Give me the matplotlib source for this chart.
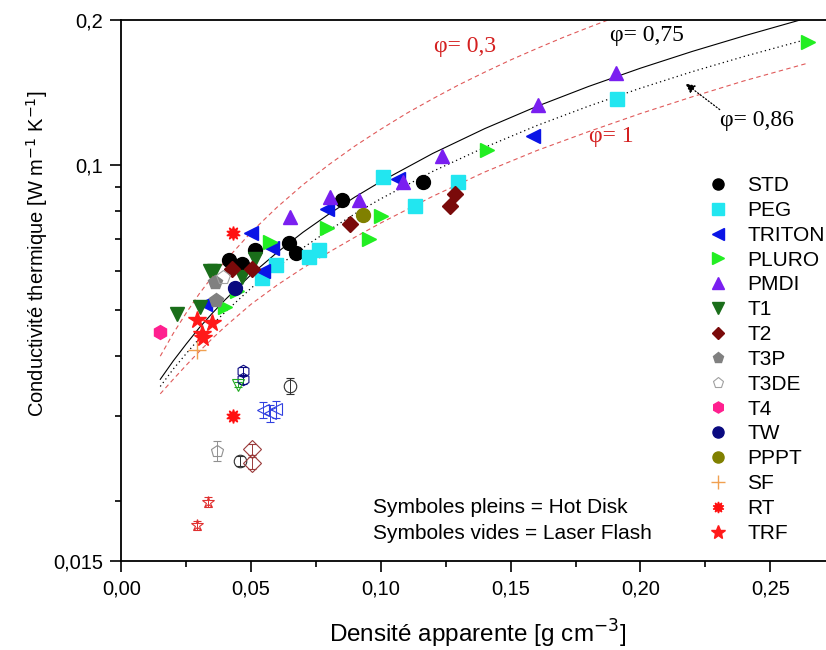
import matplotlib.pyplot as plt
from matplotlib.ticker import FixedLocator, NullFormatter

plt.rcParams['font.family'] = ['Liberation Sans', 'DejaVu Sans']

# Hot Disk (filled symbols)
std_x = [0.0416, 0.0464, 0.0515, 0.0647, 0.0673, 0.0849, 0.1162]
std_y = [0.0635, 0.0622, 0.0666, 0.0688, 0.0656, 0.0845, 0.0920]
peg_x = [0.0543, 0.0596, 0.0724, 0.0763, 0.1007, 0.1131, 0.1296, 0.1908]
peg_y = [0.0581, 0.0618, 0.0644, 0.0665, 0.0942, 0.0822, 0.0923, 0.1368]
triton_x = [0.0322, 0.0498, 0.0547, 0.0579, 0.0791, 0.1067, 0.1585]
triton_y = [0.0513, 0.0721, 0.0602, 0.0670, 0.0809, 0.0932, 0.1146]
pluro_x = [0.0399, 0.0445, 0.0573, 0.0791, 0.0955, 0.1000, 0.1408, 0.2646]
pluro_y = [0.0505, 0.0547, 0.0692, 0.0739, 0.0701, 0.0784, 0.1075, 0.1802]
pmdi_x = [0.0650, 0.0804, 0.0917, 0.1086, 0.1234, 0.1606, 0.1906]
pmdi_y = [0.0778, 0.0856, 0.0846, 0.0923, 0.1042, 0.1329, 0.1553]
t1_x = [0.0213, 0.0303, 0.0342, 0.0357, 0.0464, 0.0515]
t1_y = [0.0490, 0.0506, 0.0600, 0.0600, 0.0583, 0.0637]
t2_x = [0.0425, 0.0502, 0.0881, 0.1266, 0.1285]
t2_y = [0.0607, 0.0607, 0.0753, 0.0819, 0.0870]
t3p_x = [0.0361, 0.0365]
t3p_y = [0.0571, 0.0524]
t3de_x = [0.0393]
t3de_y = [0.0583]
t4_x = [0.0149]
t4_y = [0.0449]
tw_x = [0.0438]
tw_y = [0.0555]
pppt_x = [0.0932]
pppt_y = [0.0786]
sf_x = [0.0290]
sf_y = [0.0412]
rt_x = [0.0429, 0.0429]
rt_y = [0.0721, 0.0301]
trf_x = [0.0290, 0.0311, 0.0316, 0.0351]
trf_y = [0.0476, 0.0445, 0.0437, 0.0468]

# Laser Flash (open symbols) with error bars
std_lf_x = [0.0457, 0.0650]
std_lf_y = [0.0242, 0.0347]
std_lf_err = [0.0006, 0.0013]
tw_lf_x = [0.0468, 0.0468]
tw_lf_y = [0.0372, 0.0358]
tw_lf_err = [0.0008, 0.0008]
t1_lf_x = [0.0448]
t1_lf_y = [0.0349]
t1_lf_err = [0.0004]
triton_lf_x = [0.0546, 0.0573, 0.0596]
triton_lf_y = [0.0309, 0.0304, 0.0310]
triton_lf_err = [0.0012, 0.0012, 0.0012]
t3de_lf_x = [0.0367]
t3de_lf_y = [0.0254]
t3de_lf_err = [0.0012]
t2_lf_x = [0.0502, 0.0502]
t2_lf_y = [0.0256, 0.0240]
t2_lf_err = [0.0007, 0.0007]
trf_lf_x = [0.0290, 0.0335]
trf_lf_y = [0.0178, 0.0199]
trf_lf_err = [0.0004, 0.0005]

# model curves, values
phi03_x = [0.015, 0.020, 0.025, 0.030, 0.035, 0.040, 0.050, 0.060, 0.070, 0.080,
           0.090, 0.100, 0.110, 0.120, 0.130, 0.140, 0.150, 0.160, 0.170, 0.180, 0.1875]
phi03_y = [0.0400, 0.0446, 0.0492, 0.0539, 0.0585, 0.0631, 0.0724, 0.0816, 0.0909, 0.1001,
           0.1094, 0.1186, 0.1280, 0.1372, 0.1466, 0.1558, 0.1652, 0.1744, 0.1838, 0.1930, 0.2000]
phi075_x = [0.015, 0.020, 0.025, 0.030, 0.035, 0.040, 0.050, 0.060, 0.070, 0.080,
            0.090, 0.100, 0.120, 0.140, 0.160, 0.180, 0.200, 0.220, 0.240, 0.2615]
phi075_y = [0.0358, 0.0391, 0.0424, 0.0458, 0.0491, 0.0524, 0.0591, 0.0657, 0.0724, 0.0790,
            0.0857, 0.0923, 0.1056, 0.1189, 0.1322, 0.1455, 0.1588, 0.1721, 0.1854, 0.2000]
phi086_x = [0.015, 0.020, 0.025, 0.030, 0.035, 0.040, 0.050, 0.060, 0.070, 0.080,
            0.090, 0.100, 0.120, 0.140, 0.160, 0.180, 0.200, 0.220, 0.240, 0.264]
phi086_y = [0.0346, 0.0376, 0.0405, 0.0435, 0.0465, 0.0494, 0.0554, 0.0613, 0.0672, 0.0731,
            0.0791, 0.0850, 0.0969, 0.1087, 0.1206, 0.1324, 0.1443, 0.1562, 0.1680, 0.1823]
phi1_x = [0.015, 0.020, 0.025, 0.030, 0.035, 0.040, 0.050, 0.060, 0.070, 0.080,
          0.090, 0.100, 0.120, 0.140, 0.160, 0.180, 0.200, 0.220, 0.240, 0.264]
phi1_y = [0.0334, 0.0358, 0.0383, 0.0409, 0.0435, 0.0461, 0.0513, 0.0562, 0.0610, 0.0658,
          0.0707, 0.0757, 0.0860, 0.0966, 0.1070, 0.1172, 0.1278, 0.1385, 0.1495, 0.1624]

y_ticks = [0.015, 0.1, 0.2]
y_ticklabels = ['0,015', '0,1', '0,2']
y_minor = [0.02, 0.03, 0.04, 0.05, 0.06, 0.07, 0.08, 0.09]
x_ticks = [0.0, 0.05, 0.10, 0.15, 0.20, 0.25]
x_ticklabels = ['0,00', '0,05', '0,10', '0,15', '0,20', '0,25']

fig = plt.figure(figsize=(8.26, 6.5), dpi=100)
ax = fig.add_axes([0.1469, 0.1369, 0.8531, 0.8323])
ax.set_yscale('log')

red = '#e05a5a'
ax.plot(phi03_x, phi03_y, color=red, ls=(0, (4, 3)), lw=0.8, zorder=1)
ax.plot(phi075_x, phi075_y, color='black', ls='-', lw=0.8, zorder=1)
ax.plot(phi086_x, phi086_y, color='black', ls=(0, (1, 2.5)), lw=0.9, zorder=1)
ax.plot(phi1_x, phi1_y, color=red, ls=(0, (4, 3)), lw=0.8, zorder=1)

ms = 10
series = [
    ('STD', std_x, std_y, 'o', '#000000'),
    ('PEG', peg_x, peg_y, 's', '#22e6f0'),
    ('TRITON', triton_x, triton_y, '<', '#0a14e6'),
    ('PLURO', pluro_x, pluro_y, '>', '#22ee22'),
    ('PMDI', pmdi_x, pmdi_y, '^', '#7a1ff0'),
    ('T1', t1_x, t1_y, 'v', '#1a6e1a'),
    ('T2', t2_x, t2_y, 'D', '#7a0a0a'),
    ('T3P', t3p_x, t3p_y, 'p', '#808080'),
    ('T3DE', t3de_x, t3de_y, 'p', '#a0a0a0'),
    ('T4', t4_x, t4_y, 'h', '#ff1f8f'),
    ('TW', tw_x, tw_y, 'o', '#0a0a80'),
    ('PPPT', pppt_x, pppt_y, 'o', '#808000'),
    ('SF', sf_x, sf_y, '+', '#f0a050'),
    ('RT', rt_x, rt_y, (10, 1, 0), '#ff1010'),
    ('TRF', trf_x, trf_y, '*', '#ff1a1a'),
]
handles = []
for name, xs, ys, mk, col in series:
    size = ms
    if name == 'T2':
        size = ms - 2
    if name == 'TRF':
        size = ms + 3
    if name == 'T3DE':
        h, = ax.plot(xs, ys, ls='none', marker=mk, ms=size, mfc='none',
                     mec=col, mew=0.8, label=name, zorder=3)
    elif name == 'SF':
        h, = ax.plot(xs, ys, ls='none', marker=mk, ms=size + 3, color=col,
                     mew=1.0, label=name, zorder=3)
    else:
        h, = ax.plot(xs, ys, ls='none', marker=mk, ms=size, color=col,
                     mec=col, label=name, zorder=3)
    handles.append(h)

open_series = [
    (std_lf_x, std_lf_y, std_lf_err, 'o', '#303030'),
    (tw_lf_x, tw_lf_y, tw_lf_err, 'h', '#0a0a80'),
    (t1_lf_x, t1_lf_y, t1_lf_err, 'v', '#22aa22'),
    (triton_lf_x, triton_lf_y, triton_lf_err, '<', '#3040e0'),
    (t3de_lf_x, t3de_lf_y, t3de_lf_err, 'p', '#909090'),
    (t2_lf_x, t2_lf_y, t2_lf_err, 'D', '#9a3a3a'),
    (trf_lf_x, trf_lf_y, trf_lf_err, '*', '#e03030'),
]
for xs, ys, err, mk, col in open_series:
    ax.errorbar(xs, ys, yerr=err, fmt=mk, ms=9, mfc='none', mec=col,
                mew=0.8, ecolor=col, elinewidth=0.7, capsize=3,
                capthick=0.7, zorder=3)

ax.set_xlim(0, 0.2715)
ax.set_ylim(0.015, 0.2)

ax.yaxis.set_major_locator(FixedLocator(y_ticks))
ax.set_yticklabels(y_ticklabels)
ax.yaxis.set_minor_locator(FixedLocator(y_minor))
ax.yaxis.set_minor_formatter(NullFormatter())
ax.set_xticks(x_ticks)
ax.set_xticklabels(x_ticklabels)
ax.set_xticks([0.025, 0.075, 0.125, 0.175, 0.225], minor=True)

ax.tick_params(axis='both', which='major', length=8, width=1.2,
               direction='out', labelsize=14.5, pad=5)
ax.tick_params(axis='both', which='minor', length=4.5, width=1.2,
               direction='out')
ax.tick_params(top=False, right=False)
for side in ['left', 'bottom', 'top']:
    ax.spines[side].set_linewidth(1.3)
ax.spines['right'].set_visible(False)

ax.set_xlabel('Densité apparente [g cm$^{-3}$]', fontsize=17.5)
ax.set_ylabel('Conductivité thermique [W m$^{-1}$ K$^{-1}$]', fontsize=14.5)
ax.xaxis.set_label_coords(0.505, -0.105)
ax.yaxis.set_label_coords(-0.101, 0.569)

serif = ['Liberation Serif', 'DejaVu Serif']
ax.text(0.1324, 0.1759, 'φ= 0,3', color='#d42020', fontsize=17,
        family=serif, ha='center', va='center')
ax.text(0.2024, 0.1861, 'φ= 0,75', color='black', fontsize=17,
        family=serif, ha='center', va='center')
ax.text(0.2448, 0.1237, 'φ= 0,86', color='black', fontsize=17,
        family=serif, ha='center', va='center')
ax.text(0.1889, 0.1146, 'φ= 1', color='#d42020', fontsize=17,
        family=serif, ha='center', va='center')
ax.annotate('', xy=(0.2165, 0.1487), xytext=(0.2314, 0.1292),
            arrowprops=dict(arrowstyle='-|>', color='black', lw=0.9,
                            linestyle=':', mutation_scale=14))

ax.text(0.357, 0.098, 'Symboles pleins = Hot Disk', transform=ax.transAxes,
        fontsize=15, va='center', ha='left')
ax.text(0.357, 0.050, 'Symboles vides = Laser Flash', transform=ax.transAxes,
        fontsize=15, va='center', ha='left')

ax.legend(handles=handles, loc='upper left', bbox_to_anchor=(0.8567, 0.729),
          bbox_transform=fig.transFigure, frameon=False, fontsize=15,
          handlelength=1.0, handletextpad=0.9, labelspacing=0.28,
          borderpad=0, borderaxespad=0, markerscale=0.8)

fig.savefig('out.png', dpi=100)
